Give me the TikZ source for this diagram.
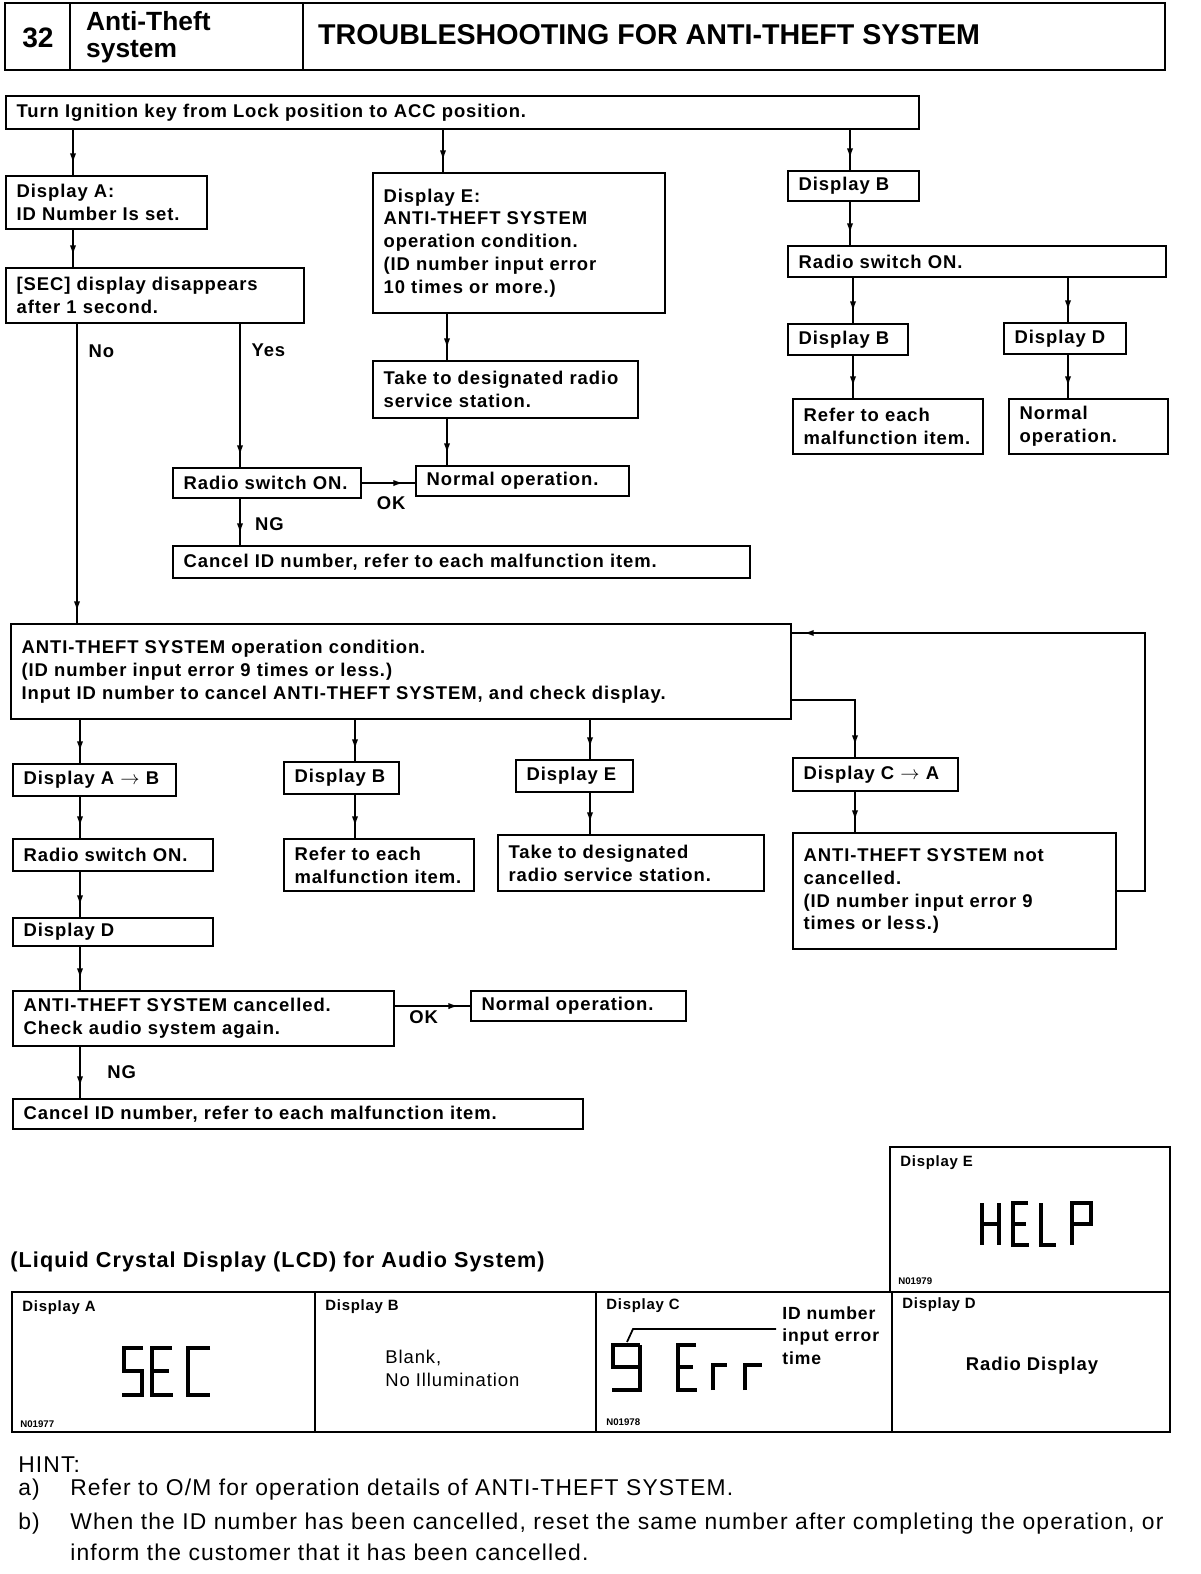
\documentclass[tikz,border=0pt]{standalone}
\usepackage{fontspec}
\setmainfont{Liberation Sans}
\newfontfamily\flowfont{Liberation Sans}[LetterSpace=5]
\usetikzlibrary{arrows.meta,decorations.markings}

\tikzset{
  box/.style={draw, line width=1.2pt, anchor=north west, align=left,
    inner xsep=6pt, inner ysep=1pt,
    font=\flowfont\bfseries\fontsize{10.5}{13}\selectfont},
  bw/.code={\pgfmathsetmacro\boxtw{#1*0.02-0.4234}%
    \tikzset{minimum width=#1*0.02cm, text width=\boxtw cm}},
  bh/.style={minimum height=#1*0.02cm},
  flow/.style={line width=1.2pt, postaction={decorate},
    decoration={markings, mark=at position -0.22cm with {\arrow{Latex[length=6pt,width=3.5pt]}}}},
  lbl/.style={inner sep=1pt, font=\flowfont\bfseries\fontsize{10.5}{13}\selectfont},
  seg/.style={line width=2.6pt},
  lcdlbl/.style={anchor=north west, inner sep=0pt, font=\flowfont\bfseries\fontsize{8.5}{9}\selectfont},
  figno/.style={anchor=south west, inner sep=0pt, font=\bfseries\fontsize{5.5}{6}\selectfont},
  hinttxt/.style={anchor=west, inner sep=0pt, font=\flowfont\fontsize{13}{16}\selectfont},
}

\begin{document}
\begin{tikzpicture}[x=0.02cm, y=-0.02cm]
    \useasboundingbox (0,0) rectangle (1200,1574);

    % Header
    \draw[line width=1.3pt] (5,3) rectangle (1165,70);
    \draw[line width=1.3pt] (70,3) -- (70,70) (303,3) -- (303,70);
    \node[font=\bfseries\fontsize{16}{18}\selectfont] (num) at (38,38) {32};
    \node[anchor=west, align=left, font=\bfseries\fontsize{15}{15.5}\selectfont] (sect) at (80,37) {Anti-Theft\\system};
    \node[anchor=west, font=\bfseries\fontsize{16.3}{18}\selectfont] (title) at (312,35) {TROUBLESHOOTING FOR ANTI-THEFT SYSTEM};

    % Upper flow
    \node[box, bw=913, bh=33] (ign) at (5,95) {Turn Ignition key from Lock position to ACC position.};
    \node[box, bw=201, bh=53] (dA) at (5,175) {Display A:\\ID~Number~Is~set.};
    \node[box, bw=298, bh=55] (sec) at (5,267) {[SEC] display disappears\\after 1 second.};
    \node[box, bw=292, bh=140] (dE) at (372,172) {Display E:\\ANTI-THEFT SYSTEM\\operation condition.\\(ID number input error\\10 times or more.)};
    \node[box, bw=265, bh=57] (take1) at (372,360) {Take to designated radio\\service station.};
    \node[box, bw=188, bh=30] (radio1) at (172,467) {Radio~switch~ON.};
    \node[box, bw=213, bh=30] (norm1) at (415,465) {Normal operation.};
    \node[box, bw=577, bh=32] (cancel1) at (172,545) {Cancel ID number, refer to each malfunction item.};
    \node[box, bw=131, bh=30] (dB) at (787,170) {Display~B};
    \node[box, bw=378, bh=31] (radioR) at (787,245) {Radio switch ON.};
    \node[box, bw=120, bh=31] (dB2) at (787,323) {Display~B};
    \node[box, bw=122, bh=31] (dD) at (1003,322) {Display~D};
    \node[box, bw=190, bh=55] (refer1) at (792,398) {Refer to each\\malfunction~item.};
    \node[box, bw=159, bh=55] (norm2) at (1008,398) {Normal\\operation.};

    \draw[flow] (ign.south -| 73,0) -- (dA.north -| 73,0);
    \draw[flow] (ign.south -| 443,0) -- (dE.north -| 443,0);
    \draw[flow] (ign.south -| 850,0) -- (dB.north -| 850,0);
    \draw[flow] (dA.south -| 73,0) -- (sec.north -| 73,0);
    \draw[flow] (dE.south -| 447,0) -- (take1.north -| 447,0);
    \draw[flow] (take1.south -| 447,0) -- (norm1.north -| 447,0);
    \draw[flow] (sec.south -| 240,0) -- node[lbl, pos=0.18, right=5pt] {Yes} (radio1.north -| 240,0);
    \draw[flow] (radio1.east) -- node[lbl, pos=0.55, below=6pt] {OK} (norm1.west |- radio1.east);
    \draw[flow] (radio1.south -| 240,0) -- node[lbl, pos=0.54, right=7pt] {NG} (cancel1.north -| 240,0);
    \draw[flow] (dB.south -| 850,0) -- (radioR.north -| 850,0);
    \draw[flow] (radioR.south -| 853,0) -- (dB2.north -| 853,0);
    \draw[flow] (radioR.south -| 1068,0) -- (dD.north -| 1068,0);
    \draw[flow] (dB2.south -| 853,0) -- (refer1.north -| 853,0);
    \draw[flow] (dD.south -| 1068,0) -- (norm2.north -| 1068,0);

    % Lower flow
    \node[box, bw=780, bh=95] (big) at (10,623) {ANTI-THEFT SYSTEM operation condition.\\(ID number input error 9 times or less.)\\Input ID number to cancel ANTI-THEFT SYSTEM, and check display.};
    \node[box, bw=163, bh=32] (dAB) at (12,763) {Display~A~$\rightarrow$~B};
    \node[box, bw=115, bh=32] (dB3) at (283,761) {Display~B};
    \node[box, bw=117, bh=32] (dE3) at (515,759) {Display~E};
    \node[box, bw=165, bh=33] (dCA) at (792,757) {Display~C~$\rightarrow$~A};
    \node[box, bw=200, bh=32] (radio3) at (12,838) {Radio~switch~ON.};
    \node[box, bw=190, bh=52] (refer3) at (283,838) {Refer to each\\malfunction~item.};
    \node[box, bw=266, bh=56] (take3) at (497,834) {Take to designated\\radio service station.};
    \node[box, bw=323, bh=116] (notc) at (792,832) {ANTI-THEFT SYSTEM not\\cancelled.\\(ID number input error 9\\times or less.)};
    \node[box, bw=200, bh=28] (dD3) at (12,917) {Display~D};
    \node[box, bw=381, bh=55] (canc) at (12,990) {ANTI-THEFT SYSTEM cancelled.\\Check audio system again.};
    \node[box, bw=215, bh=30] (norm3) at (470,990) {Normal operation.};
    \node[box, bw=570, bh=30] (cancel2) at (12,1098) {Cancel ID number, refer to each malfunction item.};

    \draw[flow] (sec.south -| 77,0) -- node[lbl, pos=0.09, right=5pt] {No} (big.north -| 77,0);
    \draw[flow] (big.south -| 80,0) -- (dAB.north -| 80,0);
    \draw[flow] (big.south -| 355,0) -- (dB3.north -| 355,0);
    \draw[flow] (big.south -| 590,0) -- (dE3.north -| 590,0);
    \draw[flow] (big.east |- 0,700) -| (dCA.north -| 855,0);
    \draw[flow] (dAB.south -| 80,0) -- (radio3.north -| 80,0);
    \draw[flow] (radio3.south -| 80,0) -- (dD3.north -| 80,0);
    \draw[flow] (dD3.south -| 80,0) -- (canc.north -| 80,0);
    \draw[flow] (dB3.south -| 355,0) -- (refer3.north -| 355,0);
    \draw[flow] (dE3.south -| 590,0) -- (take3.north -| 590,0);
    \draw[flow] (dCA.south -| 855,0) -- (notc.north -| 855,0);
    \draw[flow] (notc.east) -| (1145,633) -- (big.east |- 0,633);
    \draw[flow] (canc.east |- norm3.west) -- node[lbl, pos=0.38, below=1pt] {OK} (norm3.west);
    \draw[flow] (canc.south -| 80,0) -- node[lbl, pos=0.5, right=14pt] {NG} (cancel2.north -| 80,0);

    % LCD panels
    \node[anchor=west, inner sep=0pt, font=\flowfont\bfseries\fontsize{12.3}{13}\selectfont] (lcdtitle) at (10,1262) {(Liquid Crystal Display (LCD) for Audio System)};
    \draw[line width=1.3pt] (890,1147) rectangle (1170,1292);
    \draw[line width=1.3pt] (12,1292) rectangle (1170,1432);
    \draw[line width=1.3pt] (315,1292) -- (315,1432) (596,1292) -- (596,1432) (892,1292) -- (892,1432);

    \node[lcdlbl] (lcdE) at (900,1155) {Display E};
    \node[lcdlbl] (lcdA) at (22,1300) {Display A};
    \node[lcdlbl] (lcdB) at (325,1299) {Display B};
    \node[lcdlbl] (lcdC) at (606,1298) {Display C};
    \node[lcdlbl] (lcdD) at (902,1297) {Display D};
    \node[figno] (noE) at (898,1285) {N01979};
    \node[figno] (noA) at (20,1428) {N01977};
    \node[figno] (noC) at (606,1426) {N01978};

    % HELP
    \draw[seg] (982,1203) -- (982,1245) (999,1203) -- (999,1245) (982,1224) -- (999,1224);
    \draw[seg] (1028,1203) -- (1013,1203) -- (1013,1245) -- (1029,1245) (1013,1224) -- (1026,1224);
    \draw[seg] (1041,1203) -- (1041,1245) -- (1056,1245);
    \draw[seg] (1072,1245) -- (1072,1203) -- (1091,1203) -- (1091,1224) -- (1072,1224);

    % SEC
    \draw[seg] (143,1348) -- (124,1348) -- (124,1371) -- (142,1371) -- (142,1395) -- (122,1395);
    \draw[seg] (172,1348) -- (152,1348) -- (152,1395) -- (173,1395) (152,1371) -- (169,1371);
    \draw[seg] (210,1348) -- (188,1348) -- (188,1395) -- (210,1395);

    % Blank
    \node[anchor=north west, align=left, inner sep=0pt, font=\flowfont\fontsize{10.5}{13}\selectfont] (blank) at (385,1350) {Blank,\\No Illumination};

    % 9 Err
    \draw[seg] (640,1345) -- (613,1345) -- (613,1367) -- (640,1367) (640,1345) -- (640,1390) -- (612,1390);
    \draw[seg] (696,1345) -- (678,1345) -- (678,1390) -- (697,1390) (678,1367) -- (693,1367);
    \draw[seg] (713,1390) -- (713,1365) -- (727,1365);
    \draw[seg] (745,1390) -- (745,1365) -- (762,1365);
    \draw[line width=1pt] (627,1342) -- (633,1329) -- (776,1329);
    \node[anchor=north west, align=left, inner sep=0pt, font=\flowfont\bfseries\fontsize{10}{13}\selectfont] (errnote) at (782,1306) {ID number\\input error\\time};

    % Radio display
    \node[font=\flowfont\bfseries\fontsize{10.5}{13}\selectfont] (radiod) at (1032,1366) {Radio Display};

    % Hints
    \node[hinttxt] (hint) at (18,1465) {HINT:};
    \node[hinttxt] (hinta) at (18,1490) {a)};
    \node[hinttxt] (hintat) at (70,1490) {Refer to O/M for operation details of ANTI-THEFT SYSTEM.};
    \node[hinttxt] (hintb) at (18,1524) {b)};
    \node[hinttxt] (hintbt) at (70,1524) {When the ID number has been cancelled, reset the same number after completing the operation, or};
    \node[hinttxt] (hintbt2) at (70,1552) {inform the customer that it has been cancelled.};
\end{tikzpicture}
\end{document}
